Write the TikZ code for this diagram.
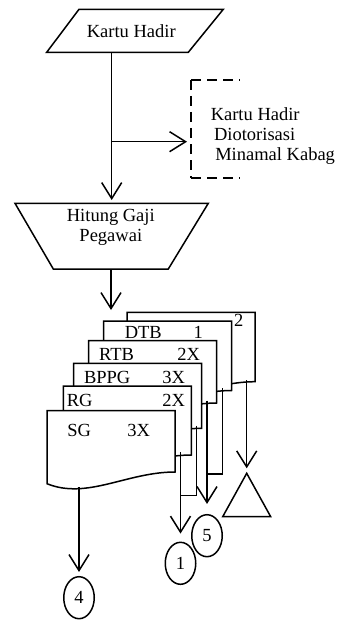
\documentclass[tikz,border=0pt]{standalone}
\usepackage{fontspec}
\setmainfont{Liberation Serif}
\usetikzlibrary{arrows.meta,shapes.geometric}
\tikzset{
  pics/flowdoc/.style={code={
    \filldraw[fill=white] (0,0) -- (128,0) -- (128,#1) .. controls (80,#1) and (40,{#1+28}) .. (0,{#1+11.7}) -- cycle;
  }},
}
\begin{document}
\begin{tikzpicture}[x=1bp,y=-1bp, line width=1.5bp,
  lbl/.style={inner sep=0pt, font=\fontsize{18.5bp}{20bp}\selectfont},
  flow/.style={-{Straight Barb[length=16bp,width=20bp]}},
  conn/.style={draw, ellipse, minimum width=30.5bp, minimum height=42bp, inner sep=0pt, font=\fontsize{18.5bp}{20bp}\selectfont},
  annot/.style={dash pattern=on 10bp off 6bp, line width=1.4bp}]
\useasboundingbox (0,0) rectangle (336,621);

% Kartu Hadir (input)
\draw (79,9.3) -- (223.3,9.3) -- (188.3,52.3) -- (46.7,52.3) -- cycle;
\node[lbl, anchor=base] (kh) at (131.3,37.3) {Kartu Hadir};
\coordinate (khout) at (111.7,52.3);
\coordinate (split) at (111.7,141.7);
\coordinate (hgin) at (111.7,203.3);
\coordinate (dashin) at (191,141.7);
\draw[flow, shorten >=3.3bp] (khout) -- (hgin);
\draw[flow, shorten >=4bp] (split) -- (dashin);

% annotation
\draw[annot] (191,80) -- (240,80);
\draw[annot] (191,80) -- (191,178);
\draw[annot] (191,178) -- (240,178);
\node[lbl, anchor=base west] (n1) at (210,120.7) {Kartu Hadir};
\node[lbl, anchor=base west] (n2) at (213.3,140.7) {Diotorisasi};
\node[lbl, anchor=base west] (n3) at (214.5,160.5) {Minamal Kabag};

% Hitung Gaji Pegawai (manual operation)
\draw (15,203.3) -- (208.3,203.3) -- (168.3,269) -- (53.3,269) -- cycle;
\node[lbl, anchor=base] (hg1) at (110.8,221.7) {Hitung Gaji};
\node[lbl, anchor=base] (hg2) at (110.8,241.7) {Pegawai};
\coordinate (hgout) at (111,269);
\coordinate (stackin) at (111,310);
\draw[flow] (hgout) -- (stackin);

% document stack
\pic at (127,312.3) {flowdoc=69.4};
\node[lbl, anchor=base] (t2) at (238.7,326.7) {2};
\pic at (103.7,321) {flowdoc=69.5};
\node[lbl, anchor=base west] (tdtb) at (124,338.3) {DTB};
\node[lbl, anchor=base] (tdtb1) at (198.3,338.3) {1};
\pic at (88.7,340.7) {flowdoc=62.3};
\node[lbl, anchor=base west] (trtb) at (98.3,360) {RTB};
\node[lbl, anchor=base west] (trtb2) at (176.7,360) {2X};
\pic at (73.7,363.3) {flowdoc=65};
\node[lbl, anchor=base west] (tbppg) at (83.3,383.3) {BPPG};
\node[lbl, anchor=base west] (tbppg2) at (161.7,383.3) {3X};
\pic at (63.3,386) {flowdoc=69};
\node[lbl, anchor=base west] (trg) at (66,406) {RG};
\node[lbl, anchor=base west] (trg2) at (161.7,406) {2X};
\pic at (47,410.7) {flowdoc=61.3};
\node[lbl, anchor=base west] (tsg) at (66.7,436) {SG};
\node[lbl, anchor=base west] (tsg2) at (126.7,436) {3X};

% outputs
\coordinate (sgout) at (79,487);
\node[conn] (c4) at (79,597.7) {4};
\draw[flow, shorten >=4bp] (sgout) -- (c4.north);

\coordinate (rgout) at (180.5,452);
\node[conn] (c1) at (180.5,563.3) {1};
\draw[flow, shorten >=8bp] (rgout) -- (c1.north);

\coordinate (bpout) at (196.3,425.5);
\coordinate (bpj) at (180.5,495.7);
\draw (bpout) |- (bpj);

\coordinate (rtout) at (207,400.5);
\node[conn] (c5) at (207,535.7) {5};
\draw[flow, shorten >=10bp] (rtout) -- (c5.north);

\coordinate (dtout) at (222.5,388);
\coordinate (dtj) at (207,474);
\draw (dtout) |- (dtj);

\coordinate (d2out) at (246.7,380);
\coordinate (tri) at (246.7,473.3);
\draw[flow, shorten >=5bp] (d2out) -- (tri);
\draw (222.7,516.7) -- (tri) -- (270.7,516.7) -- cycle;
\end{tikzpicture}
\end{document}
